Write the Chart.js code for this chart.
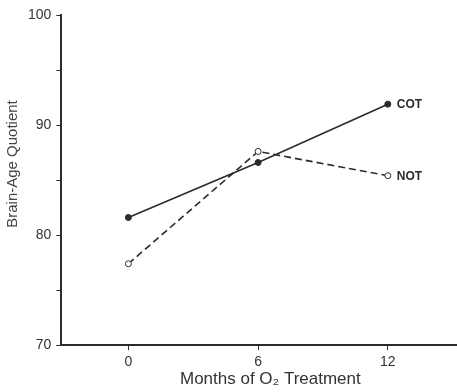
<!DOCTYPE html>
<html>
<head>
<meta charset="utf-8">
<script src="https://cdn.jsdelivr.net/npm/chart.js@4/dist/chart.umd.min.js"></script>
<style>
  html, body { margin: 0; padding: 0; background: #fff; }
  #wrap { width: 457px; height: 392px; }
</style>
</head>
<body>
<div id="wrap"><canvas id="chart" width="457" height="392"></canvas></div>
<script>
// months of O2 treatment
var months = [0, 6, 12];
// brain-age quotient
var cotValues = [81.6, 86.6, 91.9];
var notValues = [77.4, 87.6, 85.4];
var seriesNames = ["COT", "NOT"];
var xTicks = [0, 6, 12];
var xTitle = "Months of O\u2082 Treatment";
var yTitle = "Brain-Age Quotient";

var ink = "#2b2b2b";
var face = "'Liberation Sans', Arial, sans-serif";

// series names next to the last points, plus the two axis titles
var annotate = {
  id: "annotate",
  afterDatasetsDraw: function (chart) {
    var ctx = chart.ctx;
    var area = chart.chartArea;
    ctx.save();
    ctx.font = "bold 12px " + face;
    ctx.fillStyle = ink;
    ctx.textBaseline = "middle";
    chart.data.datasets.forEach(function (ds, i) {
      var pts = chart.getDatasetMeta(i).data;
      var last = pts[pts.length - 1];
      ctx.fillText(ds.label, last.x + 9, last.y + 1);
    });

    ctx.fillStyle = "#333";
    ctx.textAlign = "center";
    ctx.font = "17px " + face;
    ctx.fillText(xTitle, area.left + 209, area.bottom + 34);

    ctx.fillStyle = "#444";
    ctx.font = "15px " + face;
    ctx.translate(13, area.top + 149);
    ctx.rotate(-Math.PI / 2);
    ctx.fillText(yTitle, 0, 0);
    ctx.restore();
  }
};

new Chart(document.getElementById("chart").getContext("2d"), {
  type: "line",
  data: {
    datasets: [
      {
        label: seriesNames[0],
        data: months.map(function (m, i) { return { x: m, y: cotValues[i] }; }),
        borderColor: ink,
        borderWidth: 1.6,
        pointRadius: 3,
        pointBackgroundColor: ink,
        pointBorderColor: ink,
        pointBorderWidth: 1,
        fill: false,
      },
      {
        label: seriesNames[1],
        data: months.map(function (m, i) { return { x: m, y: notValues[i] }; }),
        borderColor: ink,
        borderWidth: 1.6,
        borderDash: [7, 4],
        pointRadius: 3,
        pointBackgroundColor: "#fff",
        pointBorderColor: ink,
        pointBorderWidth: 1,
        fill: false,
      },
    ],
  },
  options: {
    responsive: false,
    animation: false,
    layout: { autoPadding: false, padding: { top: 15, right: 0, left: 23, bottom: 17 } },
    plugins: {
      legend: { display: false },
      tooltip: { enabled: false },
    },
    scales: {
      x: {
        type: "linear",
        min: -3.1,
        max: 15.2,
        afterBuildTicks: function (axis) {
          axis.ticks = xTicks.map(function (v) { return { value: v }; });
        },
        afterFit: function (axis) {
          axis.paddingLeft = 0;
          axis.paddingRight = 0;
        },
        grid: { drawOnChartArea: false, color: ink, tickLength: 5, lineWidth: 1 },
        border: { color: ink, width: 2 },
        ticks: {
          color: "#333",
          padding: 4,
          maxRotation: 0,
          font: { family: face, size: 14 },
        },
      },
      y: {
        min: 70,
        max: 100,
        ticks: {
          stepSize: 5,
          color: "#333",
          padding: 5,
          callback: function (v) { return v % 10 === 0 ? v : ""; },
          font: { family: face, size: 14 },
        },
        grid: { drawOnChartArea: false, color: ink, tickLength: 5, lineWidth: 1 },
        border: { color: ink, width: 2 },
      },
    },
  },
  plugins: [annotate],
});
</script>
</body>
</html>
